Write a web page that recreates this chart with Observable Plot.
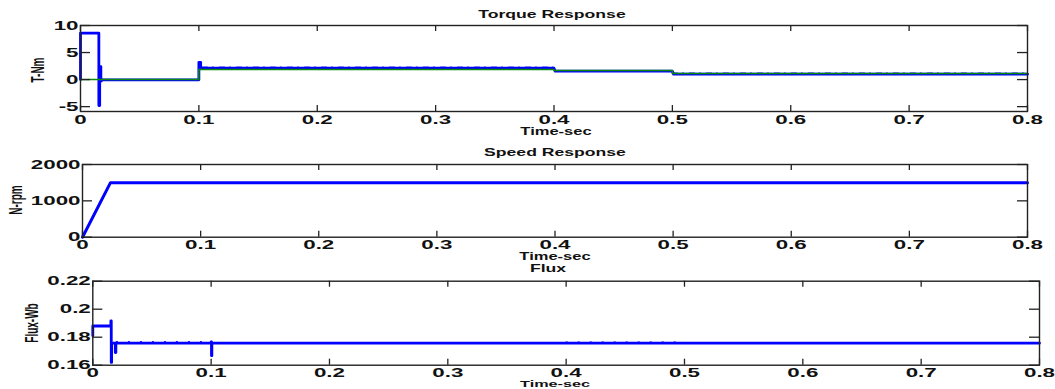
<!DOCTYPE html>
<html><head><meta charset="utf-8">
<script src="https://cdn.jsdelivr.net/npm/d3@7"></script>
<script src="https://cdn.jsdelivr.net/npm/@observablehq/plot@0.6"></script>
<style>
body{margin:0;background:#fff}
#root{position:relative;width:1055px;height:389px;overflow:hidden;font-family:"Liberation Sans",Arial,sans-serif;font-weight:bold;color:#111;background:#fff}
.lab{position:absolute;white-space:nowrap;line-height:1}
.panel{position:absolute;left:0}
.panel svg{background:none!important;overflow:visible}
</style></head><body><div id="root"></div>
<script>
// ---------- data ----------
const xTicks = [0, 0.1, 0.2, 0.3, 0.4, 0.5, 0.6, 0.7, 0.8];

// Torque response: electromagnetic torque (blue) and load torque (green)
const torqueT  = [0, 0, 0.0155, 0.0155, 0.0162, 0.0162, 0.0172, 0.0172, 0.0185, 0.1, 0.1, 0.1015, 0.1015, 0.4, 0.401, 0.5, 0.501, 0.8];
const torqueTe = [0, 8.6, 8.6, -4.8, -4.8, 2.4, 2.4, -0.3, -0.05, -0.05, 3.2, 3.2, 2.1, 2.1, 1.55, 1.55, 1.0, 1.0];
const loadT  = [0, 0.1, 0.1, 0.4, 0.4, 0.5, 0.5, 0.8];
const loadTl = [0, 0, 1.85, 1.85, 1.7, 1.7, 1.12, 1.12];
const torqueRippleStart = [0.103, 0.5];
const torqueRippleEnd   = [0.4, 0.8];
const torqueRippleLevel = [2.3, 1.2];
const torqueYTicks = [-5, 0, 5, 10];

// Speed response
const speedT = [0, 0.0237, 0.8];
const speedN = [0, 1500, 1500];
const speedYTicks = [0, 1000, 2000];

// Flux
const fluxT   = [0, 0, 0.0153, 0.0153, 0.0156, 0.0156, 0.0159, 0.0159, 0.019, 0.019, 0.0195, 0.0195, 0.1, 0.1, 0.1003, 0.1003, 0.1006, 0.1006, 0.8];
const fluxPsi = [0.181, 0.188, 0.188, 0.1917, 0.1917, 0.162, 0.162, 0.1757, 0.1757, 0.169, 0.169, 0.1757, 0.1757, 0.1767, 0.1767, 0.1668, 0.1668, 0.1757, 0.1757];
const fluxRippleStart = [0.02, 0.4];
const fluxRippleEnd   = [0.1, 0.5];
const fluxRippleLevel = [0.1768, 0.1766];
const fluxYTicks = [0.16, 0.18, 0.2, 0.22];

// ---------- helpers ----------
const W = 1055, FONT = '"Liberation Sans", Arial, sans-serif', K = 1.72;
const zip = (a, b) => a.map((v, i) => [v, b[i]]);
const segs = (s, e, l) => s.map((v, i) => ({x1: v, x2: e[i], y: l[i]}));
const root = document.getElementById("root");

function stretch(svg, k) {
  svg.querySelectorAll("text").forEach(t => {
    const tr = t.getAttribute("transform");
    if (tr) t.setAttribute("transform", tr + ` scale(${k},1)`);
    else {
      const x = +t.getAttribute("x") || 0, y = +t.getAttribute("y") || 0;
      t.removeAttribute("x"); t.removeAttribute("y");
      t.setAttribute("transform", `translate(${x},${y}) scale(${k},1)`);
    }
  });
}

function panel({top, height, mt, mb, ml, mr, yDomain, yTicks, yFmt, marks}) {
  const ph = height - mt - mb, pw = W - ml - mr;
  const tick = {stroke: "#222", strokeWidth: 1.3};
  const svg = Plot.plot({
    width: W, height, marginTop: mt, marginBottom: mb, marginLeft: ml, marginRight: mr,
    style: {fontFamily: FONT, fontWeight: "bold", fontSize: "13px", color: "#111", background: "none", overflow: "visible"},
    x: {domain: [0, 0.8]},
    y: {domain: yDomain},
    marks: [
      ...marks,
      Plot.ruleX(xTicks, {x: d => d, insetTop: ph - 6, ...tick}),
      Plot.ruleX(xTicks, {x: d => d, insetBottom: ph - 6, ...tick}),
      Plot.ruleY(yTicks, {y: d => d, insetRight: pw - 10, ...tick}),
      Plot.ruleY(yTicks, {y: d => d, insetLeft: pw - 10, ...tick}),
      Plot.frame({stroke: "#222", strokeWidth: 1.4}),
      Plot.axisX({ticks: xTicks, tickSize: 0, tickPadding: 3, tickFormat: d => String(d), label: null, fontSize: 13, fontWeight: "bold", fill: "#111"}),
      Plot.axisY({ticks: yTicks, tickSize: 0, tickPadding: 2, tickFormat: yFmt, label: null, fontSize: 13, fontWeight: "bold", fill: "#111"})
    ]
  });
  stretch(svg, K);
  const div = document.createElement("div");
  div.className = "panel";
  div.style.top = top + "px";
  div.appendChild(svg);
  root.appendChild(div);
}

function label(text, cx, cy, size, k, rotate) {
  const d = document.createElement("div");
  d.className = "lab";
  d.textContent = text;
  d.style.fontSize = size + "px";
  d.style.left = cx + "px";
  d.style.top = cy + "px";
  d.style.transform = `translate(-50%,-50%) scaleX(${k})` + (rotate ? " rotate(-90deg)" : "");
  root.appendChild(d);
}

// ---------- panels ----------
panel({
  top: 0, height: 140, mt: 25, mb: 29, ml: 80, mr: 28,
  yDomain: [-5.9, 10], yTicks: torqueYTicks, yFmt: d => String(d),
  marks: [
    Plot.ruleY(segs(torqueRippleStart, torqueRippleEnd, torqueRippleLevel), {x1: "x1", x2: "x2", y: "y", stroke: "#0000ff", strokeWidth: 1, strokeDasharray: "6 4 2 5"}),
    Plot.line(zip(torqueT, torqueTe), {stroke: "#0000ff", strokeWidth: 2.8}),
    Plot.line(zip(loadT, loadTl), {stroke: "#0a8a0a", strokeWidth: 1.5})
  ]
});

panel({
  top: 140, height: 125, mt: 24, mb: 28.3, ml: 82, mr: 28,
  yDomain: [0, 2000], yTicks: speedYTicks, yFmt: d => String(d),
  marks: [
    Plot.line(zip(speedT, speedN), {stroke: "#0000ff", strokeWidth: 3})
  ]
});

panel({
  top: 265, height: 124, mt: 15.7, mb: 24.3, ml: 92.3, mr: 16,
  yDomain: [0.16, 0.22], yTicks: fluxYTicks, yFmt: d => String(d),
  marks: [
    Plot.ruleY(segs(fluxRippleStart, fluxRippleEnd, fluxRippleLevel), {x1: "x1", x2: "x2", y: "y", stroke: "#0000ff", strokeWidth: 1, strokeDasharray: "2 10"}),
    Plot.line(zip(fluxT, fluxPsi), {stroke: "#0000ff", strokeWidth: 2.8})
  ]
});

// ---------- titles & axis titles ----------
label("Torque Response", 552, 14, 11, 1.6);
label("Time-sec", 556, 132, 10, 1.65);
label("T-Nm", 38, 70, 10, 1.9, true);
label("Speed Response", 555, 152, 11, 1.6);
label("Time-sec", 555, 257, 10, 1.65);
label("N-rpm", 16, 200, 10, 1.9, true);
label("Flux", 548, 268, 11, 1.6);
label("Time-sec", 555, 384, 9, 1.8);
label("Flux-Wb", 32, 323, 10, 1.9, true);
</script></body></html>
